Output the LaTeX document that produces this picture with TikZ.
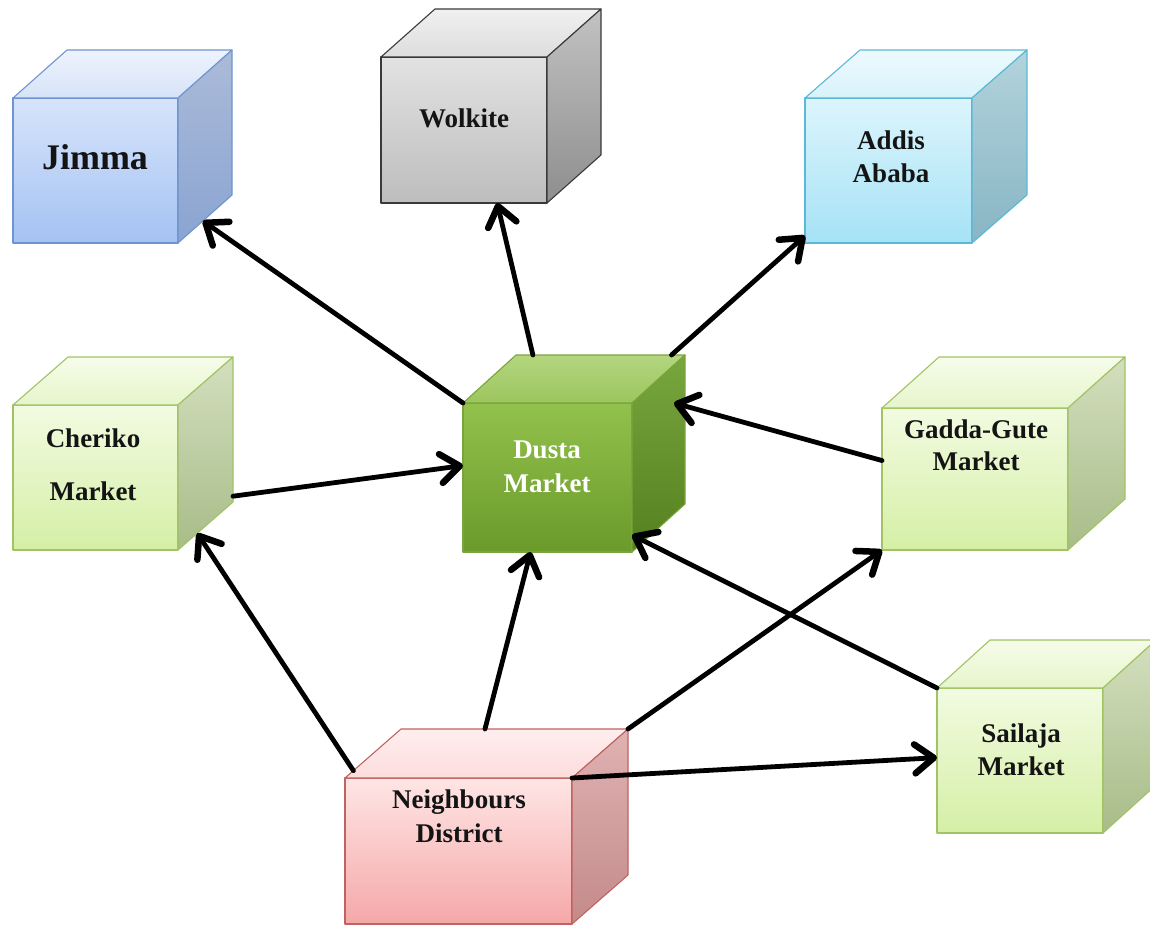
\documentclass[tikz,border=0pt]{standalone}
\usepackage{fontspec}
\setmainfont{Liberation Serif}
\usetikzlibrary{arrows.meta,calc,fit}

% colour schemes: front gradient, top face, side face, outline
\definecolor{bluefronttop}{HTML}{D6E4FB}
\definecolor{bluefrontbot}{HTML}{A5C2F2}
\definecolor{bluetopa}{HTML}{EEF3FD}
\definecolor{bluetopb}{HTML}{D6E3F8}
\definecolor{bluesidea}{HTML}{ABBBD9}
\definecolor{bluesideb}{HTML}{8AA4D1}
\definecolor{blueline}{HTML}{6E95D2}

\definecolor{greyfronttop}{HTML}{E2E2E2}
\definecolor{greyfrontbot}{HTML}{BDBDBD}
\definecolor{greytopa}{HTML}{F0F0F0}
\definecolor{greytopb}{HTML}{DDDDDD}
\definecolor{greysidea}{HTML}{C2C2C2}
\definecolor{greysideb}{HTML}{8E8E8E}
\definecolor{greyline}{HTML}{3A3A3A}

\definecolor{cyanfronttop}{HTML}{DCF5FC}
\definecolor{cyanfrontbot}{HTML}{A6E2F6}
\definecolor{cyantopa}{HTML}{EDFAFE}
\definecolor{cyantopb}{HTML}{D8F2FA}
\definecolor{cyansidea}{HTML}{B2D3DC}
\definecolor{cyansideb}{HTML}{88B5C4}
\definecolor{cyanline}{HTML}{5BB8D6}

\definecolor{dustafronttop}{HTML}{93C14D}
\definecolor{dustafrontbot}{HTML}{6A9A2A}
\definecolor{dustatopa}{HTML}{B3D67F}
\definecolor{dustatopb}{HTML}{9CC55D}
\definecolor{dustasidea}{HTML}{78A63E}
\definecolor{dustasideb}{HTML}{55801F}
\definecolor{dustaline}{HTML}{79A53C}

\definecolor{pinkfronttop}{HTML}{FFE5E5}
\definecolor{pinkfrontbot}{HTML}{F5A8A8}
\definecolor{pinktopa}{HTML}{FFEEEE}
\definecolor{pinktopb}{HTML}{FCDCDC}
\definecolor{pinksidea}{HTML}{E0B2B2}
\definecolor{pinksideb}{HTML}{C48A8A}
\definecolor{pinkline}{HTML}{C0625F}

\definecolor{limefronttop}{HTML}{F2FBE1}
\definecolor{limefrontbot}{HTML}{D5EFA6}
\definecolor{limetopa}{HTML}{F6FCEA}
\definecolor{limetopb}{HTML}{E6F5CB}
\definecolor{limesidea}{HTML}{D3DFBE}
\definecolor{limesideb}{HTML}{A8BC88}
\definecolor{limeline}{HTML}{A2C364}

\tikzset{
  cubefront/.style={inner sep=0pt, outer sep=0pt, line width=1.1pt, line join=round},
  cubeface/.style={line width=1.1pt, line join=round},
  blue front/.style={draw=blueline, top color=bluefronttop, bottom color=bluefrontbot},
  blue top/.style={draw=blueline, top color=bluetopa, bottom color=bluetopb},
  blue side/.style={draw=blueline, top color=bluesidea, bottom color=bluesideb},
  grey front/.style={draw=greyline, top color=greyfronttop, bottom color=greyfrontbot},
  grey top/.style={draw=greyline, top color=greytopa, bottom color=greytopb},
  grey side/.style={draw=greyline, top color=greysidea, bottom color=greysideb},
  cyan front/.style={draw=cyanline, top color=cyanfronttop, bottom color=cyanfrontbot},
  cyan top/.style={draw=cyanline, top color=cyantopa, bottom color=cyantopb},
  cyan side/.style={draw=cyanline, top color=cyansidea, bottom color=cyansideb},
  dusta front/.style={draw=dustaline, top color=dustafronttop, bottom color=dustafrontbot},
  dusta top/.style={draw=dustaline, top color=dustatopa, bottom color=dustatopb},
  dusta side/.style={draw=dustaline, top color=dustasidea, bottom color=dustasideb},
  pink front/.style={draw=pinkline, top color=pinkfronttop, bottom color=pinkfrontbot},
  pink top/.style={draw=pinkline, top color=pinktopa, bottom color=pinktopb},
  pink side/.style={draw=pinkline, top color=pinksidea, bottom color=pinksideb},
  lime front/.style={draw=limeline, top color=limefronttop, bottom color=limefrontbot},
  lime top/.style={draw=limeline, top color=limetopa, bottom color=limetopb},
  lime side/.style={draw=limeline, top color=limesidea, bottom color=limesideb},
  cubelabel/.style={align=center, anchor=base, inner sep=0pt, text=black!92,
    font=\bfseries\fontsize{27}{33}\selectfont},
  link/.style={line width=4.8pt, line cap=round,
    -{Straight Barb[length=19pt, width=29pt, line width=6.5pt, round]}},
}

% a box seen in perspective: front face node #1 from corner #2 to corner #3,
% receding by offset #4, coloured with scheme #5
\newcommand\drawcube[5]{%
  \coordinate (#1-fnw) at #2;
  \coordinate (#1-fse) at #3;
  \node[cubefront, #5 front, fit=(#1-fnw)(#1-fse)] (#1) {};
  \coordinate (#1-bnw) at ($(#1.north west)+#4$);
  \coordinate (#1-bne) at ($(#1.north east)+#4$);
  \coordinate (#1-bse) at ($(#1.south east)+#4$);
  \path[cubeface, #5 top] (#1.north west) -- (#1-bnw) -- (#1-bne) -- (#1.north east) -- cycle;
  \path[cubeface, #5 side] (#1.north east) -- (#1-bne) -- (#1-bse) -- (#1.south east) -- cycle;
}

\begin{document}
\begin{tikzpicture}[x=1pt, y=-1pt]
\useasboundingbox (0,0) rectangle (1150,925);
\clip (0,0) rectangle (1150,925);

% boxes
\drawcube{jimma}{(13,98)}{(178,243)}{(54,-48)}{blue}
\drawcube{wolkite}{(381,57)}{(547,203)}{(54,-48)}{grey}
\drawcube{addis}{(805,98)}{(972,243)}{(55,-48)}{cyan}
\drawcube{cheriko}{(13,405)}{(178,550)}{(55,-48)}{lime}
\drawcube{dusta}{(463,403)}{(632,552)}{(53,-48)}{dusta}
\drawcube{gadda}{(882,408)}{(1068,550)}{(57,-51)}{lime}
\drawcube{sailaja}{(937,688)}{(1103,833)}{(53,-48)}{lime}
\drawcube{nb}{(345,778)}{(572,924)}{(56,-49)}{pink}

% labels (anchored on the baseline of their last line)
\node[cubelabel, font=\bfseries\fontsize{36}{40}\selectfont] (jimma-text) at (95,170) {Jimma};
\node[cubelabel] (wolkite-text) at (464,128) {Wolkite};
\node[cubelabel] (addis-text) at (891,183) {Addis\\Ababa};
\node[cubelabel, font=\bfseries\fontsize{27}{53}\selectfont] (cheriko-text) at (93,500) {Cheriko\\Market};
\node[cubelabel, text=white, font=\bfseries\fontsize{27}{34}\selectfont] (dusta-text) at (547,492) {Dusta\\Market};
\node[cubelabel, font=\bfseries\fontsize{27}{32}\selectfont] (gadda-text) at (976,470) {Gadda-Gute\\Market};
\node[cubelabel] (sailaja-text) at (1021,775) {Sailaja\\Market};
\node[cubelabel, font=\bfseries\fontsize{27}{34}\selectfont] (nb-text) at (459,842) {Neighbours\\District};

% flows
\draw[link] (dusta.north west) -- ($(jimma.south east)!0.46!(jimma-bse)$);
\draw[link] ($(dusta-bnw)!0.1!(dusta-bne)$) -- ($(wolkite.south west)!0.7!(wolkite.south east)$);
\draw[link] ($(dusta-bnw)!0.92!(dusta-bne)$) -- ($(addis.south west)!0.05!(addis.north west)$);
\draw[link] ($(cheriko-bse)!0.04!(cheriko-bne)$) -- ($(dusta.south west)!0.58!(dusta.north west)$);
\draw[link] ($(gadda.south west)!0.63!(gadda.north west)$) -- ($(dusta.north east)+(42,0)$);
\draw[link] (sailaja.north west) -- ($(dusta.south east)+(0,-17)$);
\draw[link] ($(nb.north west)!0.15!(nb-bnw)$) -- ($(cheriko.south east)!0.35!(cheriko-bse)$);
\draw[link] ($(nb-bnw)!0.37!(nb-bne)$) -- ($(dusta.south west)!0.4!(dusta.south east)$);
\draw[link] (nb-bne) -- (gadda.south west);
\draw[link] (nb.north east) -- ($(sailaja.south west)!0.52!(sailaja.north west)$);
\end{tikzpicture}
\end{document}
